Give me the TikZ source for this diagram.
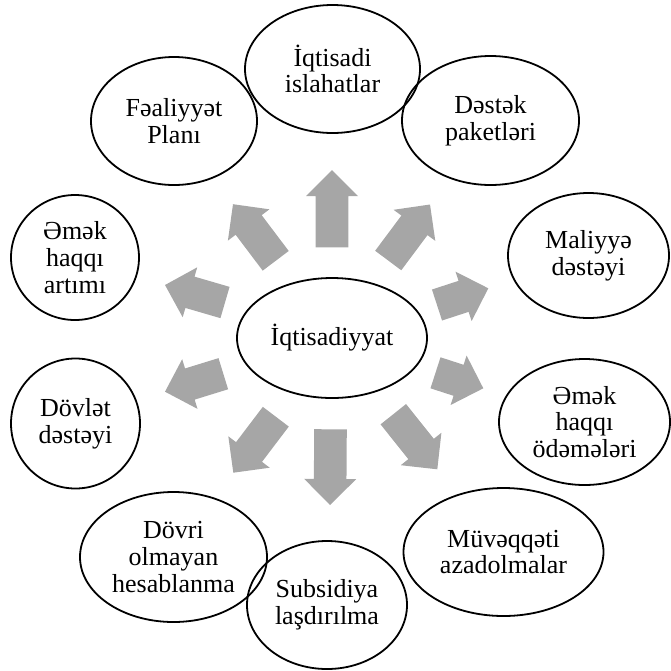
\documentclass[tikz,border=0pt]{standalone}
\usepackage{fontspec}
\setmainfont{Liberation Serif}
\usetikzlibrary{shapes.geometric,calc}
\definecolor{arrgray}{HTML}{A6A6A6}
\newcommand{\blockarr}[2]{%
  \coordinate (hb) at ($(#2)!26pt!(#1)$);
  \fill[arrowfill] ($(#1)!16.3pt!90:(#2)$) -- ($(hb)!16.3pt!90:(#2)$) -- ($(hb)!26pt!90:(#2)$) -- (#2) -- ($(hb)!26pt!-90:(#2)$) -- ($(hb)!16.3pt!-90:(#2)$) -- ($(#1)!16.3pt!-90:(#2)$) -- cycle;
}
\begin{document}
\begin{tikzpicture}[x=1pt,y=-1pt,
  oval/.style={ellipse, draw, line width=1.8pt, inner sep=0pt, align=center, font=\fontsize{26}{26.7}\selectfont},
  arrowfill/.style={fill=arrgray}]
\useasboundingbox (0,0) rectangle (671,670);

% ellipses
\node[oval, minimum width=190pt, minimum height=120pt] (c) at (332,338) {İqtisadiyyat};
\node[oval, minimum width=175pt, minimum height=128pt] (n1) at (332.5,69) {İqtisadi\\islahatlar};
\node[oval, minimum width=166pt, minimum height=128pt] (n2) at (174,121) {Fəaliyyət\\Planı};
\node[oval, minimum width=177pt, minimum height=129pt] (n3) at (490.5,120.5) {Dəstək\\paketləri};
\node[oval, minimum width=128pt, minimum height=125pt] (n4) at (75,257.5) {Əmək\\haqqı\\artımı};
\node[oval, minimum width=161pt, minimum height=125pt] (n5) at (588.5,255.5) {Maliyyə\\dəstəyi};
\node[oval, minimum width=129pt, minimum height=130pt] (n6) at (75.5,423.5) {Dövlət\\dəstəyi};
\node[oval, minimum width=171pt, minimum height=126pt] (n7) at (584.5,422) {Əmək\\haqqı\\ödəmələri};
\node[oval, minimum width=187pt, minimum height=130pt] (n8) at (173.5,557) {Dövri\\olmayan\\hesablanma};
\node[oval, minimum width=160pt, minimum height=128pt] (n9) at (327,605) {Subsidiya\\laşdırılma};
\node[oval, minimum width=200pt, minimum height=128pt] (n10) at (503.5,552) {Müvəqqəti\\azadolmalar};

% arrow tails and tips
\coordinate (t1) at (332,247.3);   \coordinate (p1) at (332,170);
\coordinate (t2) at (275.7,260.8); \coordinate (p2) at (233,204.2);
\coordinate (t3) at (388.2,260.5); \coordinate (p3) at (430,204.5);
\coordinate (t4) at (225,302.5);   \coordinate (p4) at (165,285);
\coordinate (t5) at (437,305);     \coordinate (p5) at (488.3,288.3);
\coordinate (t6) at (223.3,373.7); \coordinate (p6) at (165,391.7);
\coordinate (t7) at (435.5,372.8); \coordinate (p7) at (483.3,388.3);
\coordinate (t8) at (275.8,416.7); \coordinate (p8) at (233.3,472.7);
\coordinate (t9) at (393.3,414.2); \coordinate (p9) at (437.3,469.3);
\coordinate (t10) at (330.5,429.3); \coordinate (p10) at (330,505);

\blockarr{t1}{p1}
\blockarr{t2}{p2}
\blockarr{t3}{p3}
\blockarr{t4}{p4}
\blockarr{t5}{p5}
\blockarr{t6}{p6}
\blockarr{t7}{p7}
\blockarr{t8}{p8}
\blockarr{t9}{p9}
\blockarr{t10}{p10}
\end{tikzpicture}
\end{document}
